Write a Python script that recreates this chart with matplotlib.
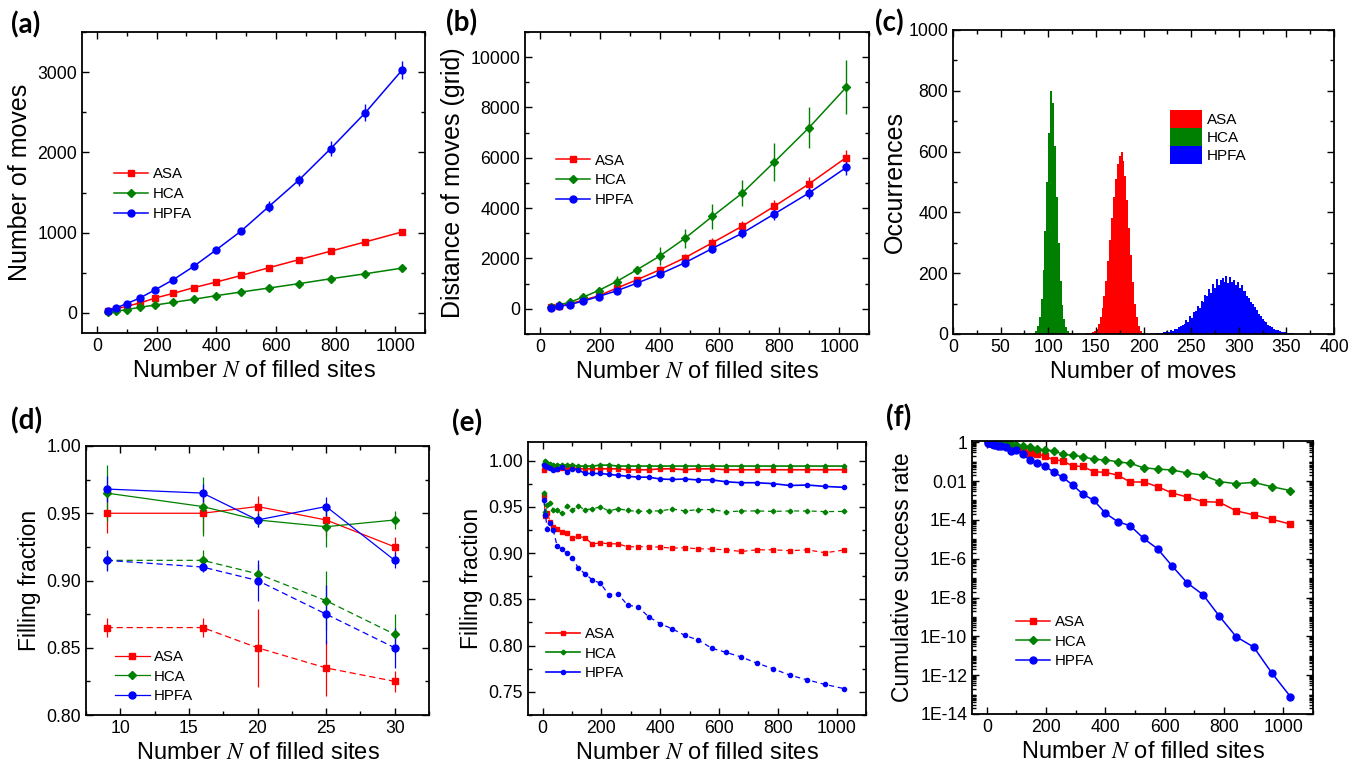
import numpy as np
import matplotlib
matplotlib.use("Agg")
import matplotlib.pyplot as plt
from matplotlib.ticker import MultipleLocator, FixedLocator, FixedFormatter, LogLocator, NullFormatter
from matplotlib.patches import Patch
from matplotlib.lines import Line2D

plt.rcParams['font.family'] = ['Liberation Sans', 'DejaVu Sans']
plt.rcParams['mathtext.fontset'] = 'stix'

RED, GREEN, BLUE = '#ff0000', '#008000', '#0000ff'
XLAB = r"Number $N$ of filled sites"

# ---------------- (a) Number of moves ----------------
N_ab = [36, 64, 100, 144, 196, 256, 324, 400, 484, 576, 676, 784, 900, 1024]
moves_asa = [25, 50, 83, 124, 186, 244, 314, 385, 467, 563, 662, 770, 885, 1010]
moves_hca = [12, 21, 41, 70, 99, 132, 170, 215, 261, 310, 364, 426, 488, 559]
moves_hpfa = [29, 62, 116, 186, 290, 414, 579, 786, 1022, 1324, 1651, 2048, 2495, 3029]
moves_asa_err = [4, 5, 5, 6, 8, 8, 10, 10, 12, 14, 15, 16, 18, 20]
moves_hca_err = [3, 3, 4, 4, 5, 6, 6, 8, 8, 10, 10, 12, 12, 14]
moves_hpfa_err = [6, 8, 12, 15, 20, 25, 30, 40, 35, 72, 72, 90, 103, 112]

# ---------------- (b) Distance of moves ----------------
dist_asa = [53, 106, 199, 344, 517, 821, 1152, 1550, 2026, 2623, 3285, 4079, 4967, 6013]
dist_hca = [66, 159, 265, 464, 728, 1086, 1550, 2093, 2795, 3669, 4596, 5841, 7205, 8808]
dist_hpfa = [40, 93, 172, 305, 490, 715, 1020, 1377, 1828, 2397, 3007, 3775, 4609, 5616]
dist_asa_err = [20, 30, 50, 60, 80, 100, 120, 150, 170, 200, 220, 250, 265, 285]
dist_hca_err = [30, 50, 70, 100, 130, 200, 165, 351, 364, 510, 523, 755, 828, 1073]
dist_hpfa_err = [20, 30, 50, 60, 80, 100, 110, 130, 150, 180, 200, 230, 250, 300]

# ---------------- (c) Histograms (bin counts, bin width 2) ----------------
bin_w = 2
hca_start = 84
hist_hca = [3, 10, 25, 55, 115, 210, 340, 500, 660, 800, 760, 620, 450, 300, 175,
            95, 48, 22, 9, 3]
asa_start = 140
hist_asa = [2, 3, 4, 6, 10, 18, 32, 55, 85, 125, 175, 240, 310, 380, 450, 510, 560,
            585, 600, 570, 520, 440, 350, 260, 170, 100, 55, 25, 10, 4]
hpfa_start = 200
hist_hpfa = [0, 1, 0, 1, 2, 1, 3, 2, 4, 3, 6, 5, 9, 8, 12, 11, 18, 15, 24, 25, 30,
             33, 45, 40, 58, 52, 72, 75, 92, 85, 110, 105, 128, 125, 148, 135, 165,
             150, 180, 162, 178, 185, 172, 190, 168, 188, 170, 176, 160, 172, 150,
             162, 140, 142, 125, 120, 104, 100, 88, 80, 66, 60, 50, 44, 38, 30, 27,
             22, 18, 14, 13, 10, 8, 6, 5, 4, 3, 3, 2, 1, 1, 1, 0, 0, 0]

# ---------------- (d) Filling fraction, small N ----------------
N_d = [9, 16, 20, 25, 30]
fill_asa_after = [0.950, 0.950, 0.955, 0.945, 0.925]
fill_hca_after = [0.965, 0.955, 0.945, 0.940, 0.945]
fill_hpfa_after = [0.968, 0.965, 0.945, 0.955, 0.915]
fill_asa_after_err = [0.0145, 0.015, 0.0075, 0.012, 0.0075]
fill_hca_after_err = [0.021, 0.022, 0.005, 0.015, 0.007]
fill_hpfa_after_err = [0.010, 0.007, 0.0055, 0.007, 0.006]
fill_asa_before = [0.865, 0.865, 0.850, 0.835, 0.825]
fill_hca_before = [0.915, 0.915, 0.905, 0.885, 0.860]
fill_hpfa_before = [0.915, 0.910, 0.900, 0.875, 0.850]
fill_asa_before_err = [0.007, 0.007, 0.029, 0.021, 0.008]
fill_hca_before_err = [0.007, 0.008, 0.007, 0.022, 0.015]
fill_hpfa_before_err = [0.008, 0.004, 0.015, 0.022, 0.015]

# ---------------- (e) Filling fraction, large N ----------------
N_ef = [4, 9, 16, 25, 36, 49, 64, 81, 100, 121, 144, 169, 196, 225, 256, 289, 324,
        361, 400, 441, 484, 529, 576, 625, 676, 729, 784, 841, 900, 961, 1024]
e_asa_solid = [0.990, 0.993, 0.993, 0.993, 0.992, 0.991, 0.992, 0.992, 0.992, 0.991,
               0.991, 0.991, 0.991, 0.991, 0.991, 0.990, 0.990, 0.990, 0.991, 0.991,
               0.990, 0.991, 0.991, 0.990, 0.990, 0.990, 0.990, 0.990, 0.990, 0.990, 0.990]
e_hca_solid = [0.996, 0.999, 0.997, 0.996, 0.995, 0.995, 0.995, 0.995, 0.995, 0.994,
               0.994, 0.994, 0.995, 0.995, 0.994, 0.994, 0.994, 0.994, 0.994, 0.994,
               0.994, 0.994, 0.994, 0.994, 0.994, 0.994, 0.994, 0.994, 0.994, 0.994, 0.994]
e_hpfa_solid = [0.995, 0.994, 0.993, 0.992, 0.990, 0.991, 0.993, 0.988, 0.991, 0.990,
                0.986, 0.986, 0.986, 0.985, 0.984, 0.983, 0.982, 0.982, 0.980, 0.9795,
                0.980, 0.979, 0.979, 0.977, 0.976, 0.976, 0.975, 0.973, 0.9735, 0.972, 0.971]
e_asa_dash = [0.962, 0.940, 0.9436, 0.934, 0.9285, 0.926, 0.923, 0.922, 0.916, 0.918,
              0.9166, 0.9097, 0.911, 0.910, 0.910, 0.9068, 0.9068, 0.907, 0.9064, 0.9053,
              0.9057, 0.9046, 0.9043, 0.9035, 0.9017, 0.9035, 0.9035, 0.9025, 0.9035,
              0.9003, 0.9032]
e_hca_dash = [0.965, 0.9447, 0.952, 0.9545, 0.9465, 0.946, 0.943, 0.951, 0.9465, 0.9505,
              0.947, 0.9476, 0.950, 0.9455, 0.948, 0.946, 0.945, 0.9455, 0.9455, 0.9476,
              0.9455, 0.947, 0.947, 0.9444, 0.9455, 0.9455, 0.945, 0.9455, 0.9455,
              0.9448, 0.945]
e_hpfa_dash = [0.957, 0.941, 0.926, 0.933, 0.925, 0.9075, 0.9046, 0.900, 0.895, 0.884,
               0.8775, 0.871, 0.8674, 0.855, 0.856, 0.8436, 0.842, 0.831, 0.8237, 0.818,
               0.811, 0.806, 0.797, 0.7926, 0.7876, 0.781, 0.775, 0.768, 0.763, 0.758, 0.7536]

# ---------------- (f) Cumulative success rate ----------------
f_asa = [1.0, 0.93, 0.87, 0.80, 0.74, 0.69, 0.66, 0.56, 0.45, 0.36, 0.28, 0.25, 0.19,
         0.123, 0.11, 0.059, 0.056, 0.030, 0.028, 0.020, 0.0089, 0.0089, 0.0051, 0.0024,
         0.0015, 8.7e-4, 8.1e-4, 2.9e-4, 1.8e-4, 1.07e-4, 6.0e-5]
f_hca = [1.0, 0.98, 0.95, 0.93, 0.89, 0.85, 0.81, 0.79, 0.72, 0.60, 0.54, 0.44, 0.40,
         0.36, 0.24, 0.21, 0.18, 0.13, 0.123, 0.098, 0.081, 0.048, 0.041, 0.037, 0.026,
         0.020, 0.0093, 0.0073, 0.0085, 0.0051, 0.0032]
f_hpfa = [0.95, 0.89, 0.76, 0.71, 0.65, 0.63, 0.58, 0.35, 0.39, 0.26, 0.12, 0.087, 0.059,
          0.029, 0.0155, 6.3e-3, 2.1e-3, 1.0e-3, 2.2e-4, 8.1e-5, 4.9e-5, 1.1e-5, 3.2e-6,
          4.2e-7, 5.6e-8, 1.4e-8, 1.1e-9, 9.5e-11, 2.8e-11, 1.3e-12, 7.8e-14]
f_ytick_vals = [1, 1e-2, 1e-4, 1e-6, 1e-8, 1e-10, 1e-12, 1e-14]
f_ytick_labels = ['1', '0.01', '1E-4', '1E-6', '1E-8', '1E-10', '1E-12', '1E-14']

labels = ['ASA', 'HCA', 'HPFA']
colors = [RED, GREEN, BLUE]
markers = ['s', 'D', 'o']

W, H = 1363, 768
fig = plt.figure(figsize=(W / 100, H / 100), dpi=100)


def add_ax(l, r, t, b):
    return fig.add_axes([l / W, 1 - b / H, (r - l) / W, (b - t) / H])


def style(ax, xmaj, xmin, ymaj=None, ymin=None):
    ax.tick_params(which='both', direction='in', top=True, right=True,
                   labelsize=12.7, width=1.0)
    ax.tick_params(which='major', length=5)
    ax.tick_params(which='minor', length=3)
    for s in ax.spines.values():
        s.set_linewidth(1.3)
    ax.xaxis.set_major_locator(MultipleLocator(xmaj))
    ax.xaxis.set_minor_locator(MultipleLocator(xmin))
    if ymaj is not None:
        ax.yaxis.set_major_locator(MultipleLocator(ymaj))
        ax.yaxis.set_minor_locator(MultipleLocator(ymin))


def msize(m):
    return 5 if m == 'o' else (4.5 if m == 's' else 3.8)


def legend(ax, x, y, lw=1.1, small=False, **kw):
    if small:
        hs = [Line2D([], [], color=c, marker=m, lw=lw,
                     ms=3 if m == 'o' else (2.8 if m == 's' else 2.4), label=l)
              for c, m, l in zip(colors, markers, labels)]
    else:
        hs = [Line2D([], [], color=c, marker=m, lw=lw, ms=msize(m), label=l)
              for c, m, l in zip(colors, markers, labels)]
    opts = dict(handles=hs, loc='upper left', bbox_to_anchor=(x, y), frameon=False,
                fontsize=10.8, handlelength=2.3, handletextpad=0.3, labelspacing=0.38,
                borderaxespad=0, borderpad=0)
    opts.update(kw)
    ax.legend(**opts)


# (a)
ax = add_ax(82, 425, 32, 333)
for vals, errs, c, m, lab in zip([moves_asa, moves_hca, moves_hpfa],
                                 [moves_asa_err, moves_hca_err, moves_hpfa_err],
                                 colors, markers, labels):
    ax.errorbar(N_ab, vals, yerr=errs, color=c, marker=m, ms=msize(m),
                lw=1.1, elinewidth=1.0, capsize=0, label=lab)
ax.set_xlim(-50, 1100)
ax.set_ylim(-250, 3500)
style(ax, 200, 100, 1000, 500)
ax.set_xlabel(XLAB, fontsize=17)
ax.set_ylabel("Number of moves", fontsize=18)
legend(ax, 0.093, 0.55)

# (b)
ax = add_ax(525, 869, 32, 334)
for vals, errs, c, m, lab in zip([dist_asa, dist_hca, dist_hpfa],
                                 [dist_asa_err, dist_hca_err, dist_hpfa_err],
                                 colors, markers, labels):
    ax.errorbar(N_ab, vals, yerr=errs, color=c, marker=m, ms=msize(m),
                lw=1.1, elinewidth=1.0, capsize=0, label=lab)
ax.set_xlim(-50, 1100)
ax.set_ylim(-1000, 11000)
style(ax, 200, 100, 2000, 1000)
ax.set_xlabel(XLAB, fontsize=17)
ax.set_ylabel("Distance of moves (grid)", fontsize=18)
legend(ax, 0.09, 0.597)

# (c)
ax = add_ax(953, 1334, 30, 334)
for start, counts, c in [(hca_start, hist_hca, GREEN), (asa_start, hist_asa, RED),
                         (hpfa_start, hist_hpfa, BLUE)]:
    edges = start + bin_w * np.arange(len(counts) + 1)
    ax.stairs(counts, edges, fill=True, color=c, lw=0)
ax.set_xlim(0, 400)
ax.set_ylim(0, 1000)
style(ax, 50, 25, 200, 100)
ax.set_xlabel("Number of moves", fontsize=17)
ax.set_ylabel("Occurrences", fontsize=18, labelpad=1)
handles = [Patch(facecolor=c, edgecolor='none', label=l) for c, l in zip(colors, labels)]
ax.legend(handles=handles, loc='upper left', bbox_to_anchor=(0.57, 0.737), frameon=False,
          fontsize=11, handlelength=2.1, handleheight=1.45, handletextpad=0.3,
          labelspacing=0.0, borderaxespad=0, borderpad=0)

# (d)
ax = add_ax(86, 429, 446, 715)
for vals, errs, c, m, lab in zip([fill_asa_after, fill_hca_after, fill_hpfa_after],
                                 [fill_asa_after_err, fill_hca_after_err, fill_hpfa_after_err],
                                 colors, markers, labels):
    ax.errorbar(N_d, vals, yerr=errs, color=c, marker=m, ms=msize(m),
                lw=0.9, elinewidth=0.9, capsize=0, label=lab)
for vals, errs, c, m in zip([fill_asa_before, fill_hca_before, fill_hpfa_before],
                            [fill_asa_before_err, fill_hca_before_err, fill_hpfa_before_err],
                            colors, markers):
    ax.errorbar(N_d, vals, yerr=errs, color=c, marker=m, ms=msize(m),
                lw=0.9, ls=(0, (5, 3)), elinewidth=0.9, capsize=0)
ax.set_xlim(7.5, 32.5)
ax.set_ylim(0.80, 1.00)
style(ax, 5, 2.5, 0.05, 0.025)
ax.yaxis.set_major_formatter(matplotlib.ticker.FormatStrFormatter('%.2f'))
ax.set_xlabel(XLAB, fontsize=17)
ax.set_ylabel("Filling fraction", fontsize=16.5)
legend(ax, 0.085, 0.242, lw=0.9)

# (e)
ax = add_ax(528, 866, 442, 715)
for vals, c, m, lab in zip([e_asa_solid, e_hca_solid, e_hpfa_solid], colors, markers, labels):
    ax.plot(N_ef, vals, color=c, marker=m, ms=3 if m == 'o' else (2.8 if m == 's' else 2.4),
            lw=1.2, label=lab)
for vals, c, m in zip([e_asa_dash, e_hca_dash, e_hpfa_dash], colors, markers):
    ax.plot(N_ef, vals, color=c, marker=m, ms=3 if m == 'o' else (2.8 if m == 's' else 2.4),
            lw=0.9, ls=(0, (4, 3)))
ax.set_xlim(-50, 1100)
ax.set_ylim(0.725, 1.02)
style(ax, 200, 100, 0.05, 0.025)
ax.yaxis.set_major_formatter(matplotlib.ticker.FormatStrFormatter('%.2f'))
ax.set_xlabel(XLAB, fontsize=17)
ax.set_ylabel("Filling fraction", fontsize=16.5)
legend(ax, 0.053, 0.323, lw=1.2, small=True)

# (f)
ax = add_ax(972, 1313, 441, 714)
for vals, c, m, lab in zip([f_asa, f_hca, f_hpfa], colors, markers, labels):
    ax.plot(N_ef, vals, color=c, marker=m, ms=msize(m), lw=1.1, label=lab)
ax.set_yscale('log')
ax.set_xlim(-50, 1100)
ax.set_ylim(1e-14, 1.15)
style(ax, 200, 100)
ax.yaxis.set_major_locator(FixedLocator(f_ytick_vals))
ax.yaxis.set_major_formatter(FixedFormatter(f_ytick_labels))
ax.yaxis.set_minor_locator(LogLocator(base=10, subs=np.arange(1, 10), numticks=100))
ax.yaxis.set_minor_formatter(NullFormatter())
ax.set_xlabel(XLAB, fontsize=17)
ax.set_ylabel("Cumulative success rate", fontsize=16.5)
legend(ax, 0.129, 0.363)

# panel labels
for lab, x, y in [('(a)', 11, 11), ('(b)', 446, 9), ('(c)', 875, 9),
                  ('(d)', 11, 407), ('(e)', 452, 409), ('(f)', 886, 404)]:
    fig.text(x / W, 1 - y / H, lab, fontsize=20, fontweight='bold', ha='left', va='top',
             family=['Lato', 'DejaVu Sans'])

fig.savefig('out.png', dpi=100)
